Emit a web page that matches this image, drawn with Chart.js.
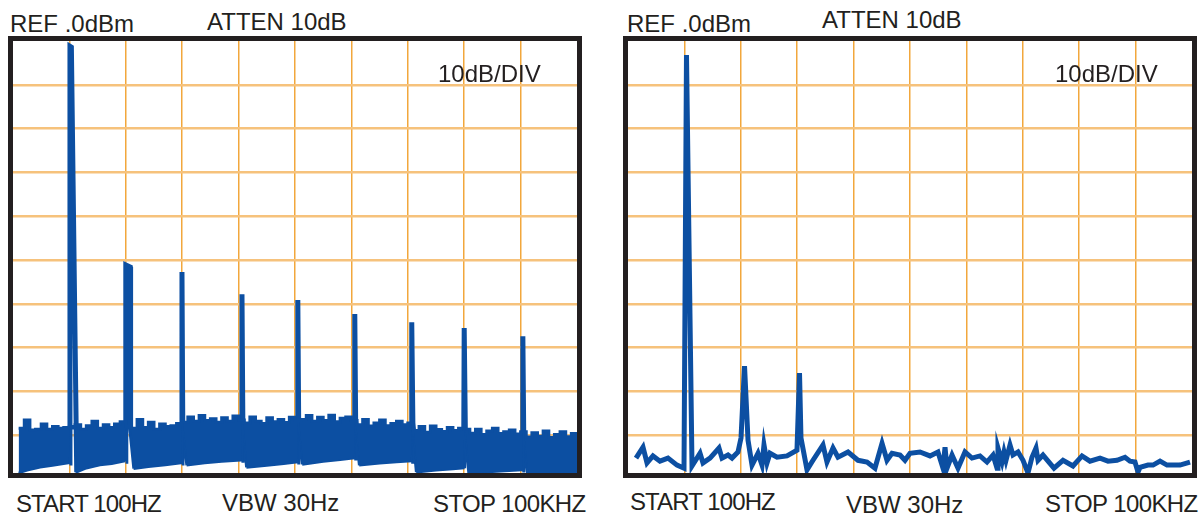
<!doctype html>
<html lang="en">

<head>
    <meta charset="utf-8">
    <title>Spectrum analyzer displays</title>
    <script src="https://cdn.jsdelivr.net/npm/chart.js"></script>
    <style>
        body {
            margin: 0;
            width: 1203px;
            height: 515px;
            position: relative;
            overflow: hidden;
            background: #fff;
            font-family: "Liberation Sans", Arial, sans-serif;
            color: #231f20;
        }

        .screen {
            position: absolute;
            top: 36px;
            width: 564px;
            height: 432px;
            border: 5px solid #231f20;
        }

        .screen canvas {
            display: block;
        }

        .lbl {
            position: absolute;
            font-size: 24px;
            line-height: 24px;
            white-space: nowrap;
            z-index: 2;
        }
    </style>
</head>

<body>
    <div class="lbl" style="left:10px;top:12px">REF .0dBm</div>
    <div class="lbl" style="left:207px;top:10px">ATTEN 10dB</div>
    <div class="lbl" style="left:438px;top:62px">10dB/DIV</div>
    <div class="lbl" style="left:16px;top:492px;letter-spacing:-0.9px">START 100HZ</div>
    <div class="lbl" style="left:222px;top:491px">VBW 30Hz</div>
    <div class="lbl" style="left:433px;top:492px;letter-spacing:-0.6px">STOP 100KHZ</div>

    <div class="lbl" style="left:627px;top:12px">REF .0dBm</div>
    <div class="lbl" style="left:822px;top:8px">ATTEN 10dB</div>
    <div class="lbl" style="left:1055px;top:62px">10dB/DIV</div>
    <div class="lbl" style="left:630px;top:490px;letter-spacing:-0.9px">START 100HZ</div>
    <div class="lbl" style="left:846px;top:493px">VBW 30Hz</div>
    <div class="lbl" style="left:1045px;top:492px;letter-spacing:-0.6px">STOP 100KHZ</div>

    <div class="screen" style="left:8px"><canvas id="left" width="564" height="432"></canvas></div>
    <div class="screen" style="left:623px"><canvas id="right" width="564" height="432"></canvas></div>

    <script>
        const blue = "#0c4fa2";

        // left screen: upper edge of the noise band, one value per kHz (1 .. 100 kHz)
        const leftFloorTop = [
            -88.4, -86.5, -88.8, -88.6, -87.4, -88.6, -88.0, -88.4, -88.2, -88.0,
            -87.6, -88.6, -87.8, -86.8, -88.4, -87.6, -88.2, -87.4, -86.9, -88.0,
            -88.4, -86.4, -88.2, -87.0, -88.6, -87.4, -88.0, -87.8, -87.3, -87.0,
            -85.8, -86.8, -85.5, -86.6, -86.2, -87.0, -86.0, -86.8, -85.6, -86.5,
            -87.2, -85.8, -86.8, -87.3, -86.0, -86.9, -86.4, -87.1, -85.9, -86.6,
            -86.4, -85.5, -86.8, -85.9, -86.6, -85.4, -86.9, -86.1, -85.8, -86.6,
            -87.6, -86.4, -87.9, -87.2, -86.5, -87.8, -87.3, -86.8, -87.6, -87.2,
            -88.9, -88.0, -89.3, -87.9, -88.7, -89.1, -88.2, -88.9, -88.4, -88.6,
            -89.5, -88.6, -89.8, -89.0, -88.4, -89.6, -89.2, -88.8, -89.7, -89.2,
            -90.4, -89.4, -90.2, -89.0, -90.5, -89.8, -89.2, -90.3, -89.6, -89.9
        ];

        // left screen: lower edge of the noise band
        const leftFloorLowKHz = [1.0, 2.5, 4.8, 7.0, 9.9, 10.05, 11.05, 11.3, 13.0, 15.4, 17.5, 19.7, 19.95, 20.95, 21.6,
            24.0, 27.0, 29.8, 29.96, 30.15, 31.0, 34.0, 37.0, 40.45, 40.6, 40.8, 41.6, 45.0, 48.0, 50.35, 50.5, 50.7, 51.5,
            55.0, 58.0, 60.45, 60.6, 60.8, 61.6, 65.0, 68.0, 70.55, 70.7, 70.95, 71.7, 75.0, 78.0, 79.85, 80.0, 80.25, 81.0,
            85.0, 88.0, 90.25, 90.4, 90.6, 91.4, 95.0, 98.0, 100];
        const leftFloorLowDb = [-98.6, -98.0, -97.3, -96.9, -96.3, -88.4, -88.4, -98.4, -97.5, -96.8, -96.5, -95.9, -88.0, -88.0, -97.6,
            -97.2, -96.8, -96.3, -87.0, -87.0, -96.8, -96.3, -96.0, -95.7, -86.5, -86.5, -97.3, -96.9, -96.5, -96.1, -86.6, -86.6, -96.6,
            -96.0, -95.6, -95.2, -86.6, -86.6, -96.8, -96.4, -96.1, -95.9, -87.2, -87.2, -98.4, -98.0, -97.7, -97.5, -88.6, -88.6, -98.6,
            -98.3, -98.1, -97.9, -89.2, -89.2, -98.6, -98.6, -98.4, -98.4];

        // left screen: fundamental and harmonics
        const leftHarmKHz = [
            [10.0, 10.1, 10.35, 11.3],
            [19.95, 20.0, 20.8, 20.85, 21.6],
            [29.9, 29.96, 30.1, 31.0],
            [40.5, 40.6, 40.75, 41.6],
            [50.4, 50.5, 50.65, 51.5],
            [60.5, 60.6, 60.75, 61.6],
            [70.6, 70.7, 70.9, 71.7],
            [79.9, 80.0, 80.2, 81.0],
            [90.3, 90.4, 90.55, 91.4]
        ];
        const leftHarmDb = [
            [-96.3, -1.2, -1.4, -98.4],
            [-95.9, -51.1, -51.6, -88.0, -97.6],
            [-96.3, -52.7, -87.0, -96.8],
            [-95.7, -57.8, -86.5, -97.3],
            [-96.1, -59.1, -86.6, -96.6],
            [-95.2, -62.3, -86.6, -96.8],
            [-95.9, -64.2, -87.2, -98.4],
            [-97.5, -65.5, -88.6, -98.6],
            [-97.9, -67.4, -89.2, -98.6]
        ];

        // right screen trace
        const rightKHz = [1.42, 2.66, 3.37, 4.43, 5.67, 7.09, 8.69, 9.93, 10.37, 11.35, 12.77, 13.30, 14.54, 16.13, 16.67,
            17.73, 18.44, 19.50, 20.04, 20.66, 21.28, 21.99, 23.05, 23.76, 24.11, 24.65, 25.18, 26.42, 28.19, 29.96, 30.41,
            30.67, 31.74, 32.80, 34.57, 35.28, 36.35, 37.23, 39.01, 40.78, 42.38, 43.79, 45.04, 45.92, 46.81, 48.23, 49.11,
            50.00, 51.77, 53.55, 54.96, 55.85, 56.21, 56.56, 57.45, 58.51, 59.75, 60.99, 62.41, 63.65, 64.72, 65.43, 65.60,
            66.31, 66.67, 67.02, 67.73, 68.26, 69.15, 70.04, 70.92, 71.63, 72.34, 72.70, 73.58, 75.53, 77.13, 78.90, 80.50,
            81.91, 83.69, 85.11, 86.70, 88.12, 89.01, 89.89, 90.43, 90.78, 92.20, 93.09, 94.33, 95.57, 97.87, 99.65];
        const rightDb = [-95.2, -92.7, -96.3, -94.7, -95.9, -95.2, -96.8, -97.5, -3.2, -97.0, -94.1, -96.3, -95.2, -92.9, -95.2,
            -94.5, -95.2, -93.8, -90.6, -74.2, -91.1, -96.8, -94.1, -96.8, -92.2, -96.3, -94.1, -95.0, -94.7, -93.4, -75.8,
            -90.6, -97.9, -95.7, -92.2, -96.1, -92.9, -95.0, -93.8, -95.7, -96.1, -97.5, -91.8, -95.7, -94.1, -94.5, -95.7,
            -94.1, -93.8, -94.7, -93.8, -97.5, -92.7, -97.5, -94.5, -97.5, -93.8, -95.2, -94.7, -96.1, -94.5, -97.5, -92.9,
            -96.1, -93.8, -95.7, -92.2, -94.5, -93.8, -95.7, -98.6, -95.0, -92.9, -95.7, -94.5, -97.5, -95.7, -97.0, -94.7,
            -95.9, -95.2, -95.9, -95.7, -95.0, -95.9, -96.1, -98.4, -97.3, -96.8, -96.8, -95.9, -96.8, -96.8, -96.1];

        function zip(xs, ys) {
            return xs.map((x, i) => ({ x: x, y: ys[i] }));
        }

        function scopeOptions() {
            return {
                responsive: false,
                animation: false,
                events: [],
                layout: { padding: 0 },
                plugins: { legend: { display: false }, tooltip: { enabled: false } },
                elements: { point: { radius: 0 }, line: { tension: 0 } },
                scales: {
                    x: {
                        type: 'linear', min: 0, max: 100,
                        ticks: { display: false, stepSize: 10 },
                        border: { display: false },
                        grid: { color: '#f2a73c', lineWidth: 1.5, drawTicks: false },
                        afterBuildTicks: s => { s.ticks = s.ticks.filter(t => t.value > 0 && t.value < 100); }
                    },
                    y: {
                        type: 'linear', min: -98.6, max: 0,
                        ticks: { display: false, stepSize: 10 },
                        border: { display: false },
                        grid: { color: '#f6c27c', lineWidth: 2.5, drawTicks: false },
                        afterBuildTicks: s => { s.ticks = s.ticks.filter(t => t.value < 0 && t.value > -95); }
                    }
                }
            };
        }

        const floorTopPts = leftFloorTop.map((v, i) => ({ x: i + 1, y: v }));
        const harmPts = [];
        for (let h = 0; h < leftHarmKHz.length; h++) {
            harmPts.push(...zip(leftHarmKHz[h], leftHarmDb[h]));
            harmPts.push({ x: leftHarmKHz[h][leftHarmKHz[h].length - 1], y: null });
        }

        new Chart(document.getElementById('left'), {
            type: 'line',
            data: {
                datasets: [{
                    data: floorTopPts,
                    borderColor: blue,
                    backgroundColor: blue,
                    borderWidth: 3,
                    stepped: true,
                    fill: '+1'
                }, {
                    data: zip(leftFloorLowKHz, leftFloorLowDb),
                    borderColor: blue,
                    borderWidth: 2.5,
                    fill: false
                }, {
                    data: harmPts,
                    borderColor: blue,
                    borderWidth: 5,
                    spanGaps: false,
                    fill: false
                }]
            },
            options: scopeOptions()
        });

        new Chart(document.getElementById('right'), {
            type: 'line',
            data: {
                datasets: [{
                    data: zip(rightKHz, rightDb),
                    borderColor: blue,
                    borderWidth: 5,
                    fill: false
                }]
            },
            options: scopeOptions()
        });
    </script>
</body>

</html>
